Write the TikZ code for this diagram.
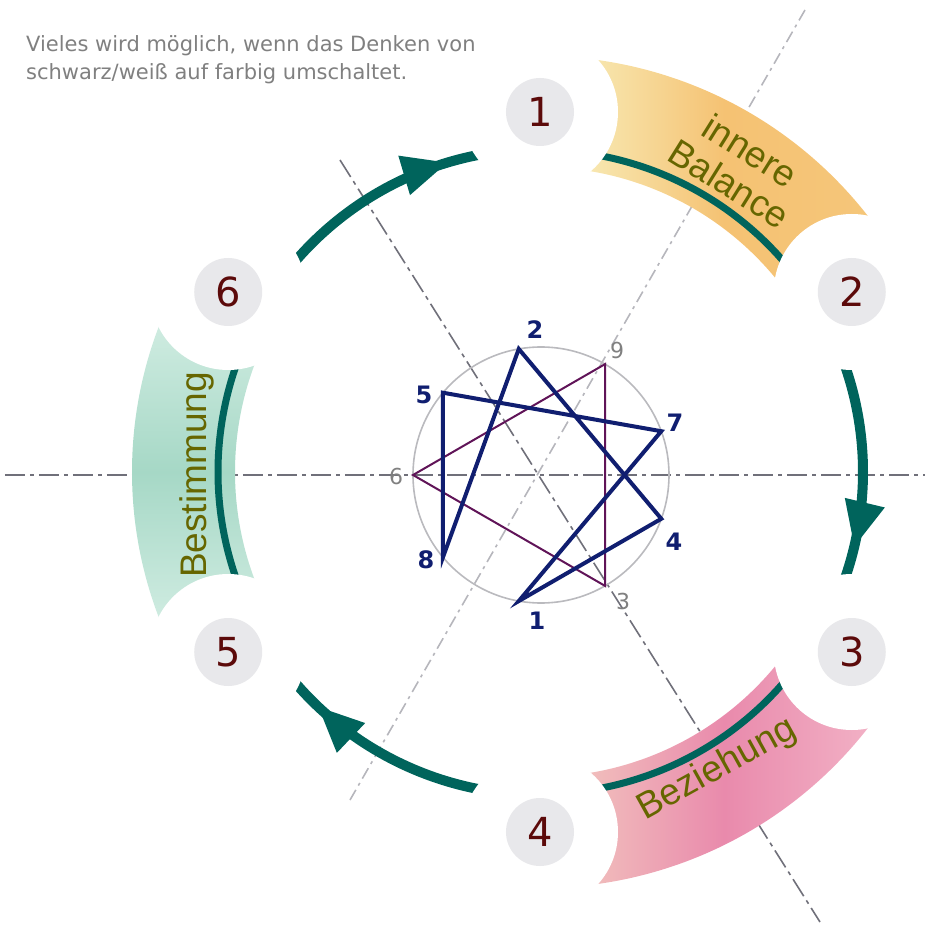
\documentclass[tikz,border=0pt]{standalone}
\usepackage{fontspec}
\setmainfont{Liberation Sans}
\newfontfamily\dejavu{DejaVu Sans}
\usepackage{tikz}
\usetikzlibrary{arrows.meta}
\usetikzlibrary{decorations.markings}

\definecolor{numgray}{RGB}{232,232,235}
\definecolor{numred}{RGB}{92,10,10}
\definecolor{axisdark}{RGB}{112,112,122}
\definecolor{axislight}{RGB}{182,182,188}
\definecolor{tealc}{RGB}{0,100,92}
\definecolor{olivetext}{RGB}{102,102,0}
\definecolor{balLight}{RGB}{248,236,184}
\definecolor{balOrange}{RGB}{245,194,115}
\definecolor{bezPeach}{RGB}{242,196,190}
\definecolor{bezPink}{RGB}{233,138,172}
\definecolor{bezLight}{RGB}{242,178,198}
\definecolor{besLight}{RGB}{212,238,228}
\definecolor{besGreen}{RGB}{166,216,198}
\definecolor{ennblue}{RGB}{16,30,112}
\definecolor{ennpurple}{RGB}{96,20,88}
\definecolor{mottogray}{RGB}{128,128,128}
\definecolor{circgray}{RGB}{186,186,190}

\begin{document}
\begin{tikzpicture}[x=1pt,y=1pt,
  numcircle/.style={circle, fill=numgray, minimum size=68pt, inner sep=0pt,
    text=numred, font=\dejavu\fontsize{40}{40}\selectfont},
  axisline/.style={line width=1.6pt, dash pattern=on 20pt off 5pt on 4pt off 5pt},
  bandtext/.style={text=olivetext, font=\fontsize{37}{39}\selectfont, align=center},
  stripe/.style={tealc, line width=7pt},
  cyclearrow/.style={tealc, line width=10pt,
    postaction={decorate, decoration={markings,
      mark=at position 0.77 with {\arrow{Triangle[length=46pt,width=38pt]}}}}},
  hexad/.style={ennblue, line width=4pt},
  triad/.style={ennpurple, line width=2pt},
  bluelabel/.style={text=ennblue, font=\dejavu\bfseries\fontsize{24}{24}\selectfont},
  graylabel/.style={text=mottogray, font=\dejavu\fontsize{22}{22}\selectfont}]
\useasboundingbox (-540,-454) rectangle (397,472);

% axes
\coordinate (hl) at (-535,-3);
\coordinate (hr) at (385,-3);
\coordinate (da) at (-200,312);
\coordinate (db) at (280,-450);
\coordinate (la) at (265,462);
\coordinate (lb) at (-190,-328);
\draw[axisline, axisdark] (hl) -- (hr);
\draw[axisline, axisdark] (da) -- (db);
\draw[axisline, axislight, dash pattern=on 12pt off 5pt on 3pt off 5pt] (la) -- (lb);

% bands
\shade[left color=balLight, right color=balOrange!90!balLight, middle color=balOrange]
  (36:305) arc[start angle=36, end angle=84, radius=305]
  -- (84:416) arc[start angle=84, end angle=36, radius=416] -- cycle;
\shade[left color=bezPeach, right color=bezLight, middle color=bezPink]
  (-84:305) arc[start angle=-84, end angle=-36, radius=305]
  -- (-36:416) arc[start angle=-36, end angle=-84, radius=416] -- cycle;
\shade[top color=besLight, bottom color=besLight, middle color=besGreen]
  (156:305) arc[start angle=156, end angle=204, radius=305]
  -- (204:408) arc[start angle=204, end angle=156, radius=408] -- cycle;
\draw[stripe] (36:322) arc[start angle=36, end angle=84, radius=322];
\draw[stripe] (-84:322) arc[start angle=-84, end angle=-36, radius=322];
\draw[stripe] (156:322) arc[start angle=156, end angle=204, radius=322];
\node[bandtext, rotate=-32] (balance) at (200,305) {innere\\Balance};
\node[bandtext, rotate=29] (beziehung) at (177,-298) {Beziehung};
\node[bandtext, rotate=90] (bestimmung) at (-343,-3) {Bestimmung};

% arrows
\coordinate (a61) at (145:323);
\coordinate (a23) at (25:323);
\coordinate (a45) at (-95:323);
\draw[cyclearrow] (a61) arc[start angle=145, end angle=95, radius=323];
\draw[cyclearrow] (a23) arc[start angle=25, end angle=-25, radius=323];
\draw[cyclearrow] (a45) arc[start angle=-95, end angle=-145, radius=323];

% numbered circles
\foreach \n/\a in {1/90,2/30,3/-30,4/-90,5/-150,6/150}{
  \fill[white] (\a:360) circle (78);
  \node[numcircle] (n\n) at (\a:360) {\n};
}

% enneagram
\draw[circgray, line width=1.6pt] (1,-3) circle (128);
\foreach \n/\a in {9/60,7/20,4/-20,3/-60,1/-100,8/-140,6/180,5/140,2/100}
  \coordinate (p\n) at ([shift={(1,-3)}]\a:128);
\draw[triad] (p9) -- (p6) -- (p3) -- cycle;
\draw[hexad] (p1) -- (p4) -- (p2) -- (p8) -- (p5) -- (p7) -- cycle;
\node[bluelabel] (l2) at (-5,142) {2};
\node[bluelabel] (l5) at (-116,77) {5};
\node[bluelabel] (l7) at (135,49) {7};
\node[bluelabel] (l4) at (134,-70) {4};
\node[bluelabel] (l1) at (-3,-149) {1};
\node[bluelabel] (l8) at (-114,-88) {8};
\node[graylabel] (l9) at (77,122) {9};
\node[graylabel] (l6) at (-144,-4) {6};
\node[graylabel] (l3) at (83,-129) {3};

% motto
\node[anchor=north west, inner sep=0pt, align=left, text=mottogray,
  font=\dejavu\fontsize{21}{28}\selectfont] (motto) at (-514,437)
  {Vieles wird möglich, wenn das Denken von\\schwarz/weiß auf farbig umschaltet.};
\end{tikzpicture}
\end{document}
